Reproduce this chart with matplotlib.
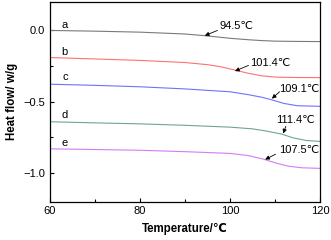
import numpy as np
import matplotlib
matplotlib.use("Agg")
import matplotlib.pyplot as plt
from matplotlib.ticker import MultipleLocator

plt.rcParams['font.family'] = ['Liberation Sans', 'DejaVu Sans']

# DSC curves (temperature in C, heat flow in w/g)
temp_a = [60, 70, 80, 90, 94.5, 97, 100, 104, 107, 110, 115, 120]
flow_a = [0.0, -0.005, -0.012, -0.025, -0.037, -0.045, -0.055, -0.065, -0.071, -0.075, -0.077, -0.078]

temp_b = [60, 70, 80, 90, 95, 98, 101.4, 104, 107, 110, 115, 120]
flow_b = [-0.19, -0.2, -0.21, -0.225, -0.24, -0.255, -0.28, -0.3, -0.318, -0.327, -0.33, -0.331]

temp_c = [60, 70, 80, 90, 100, 104, 107, 109.1, 112, 115, 120]
flow_c = [-0.377, -0.385, -0.395, -0.41, -0.43, -0.45, -0.468, -0.485, -0.512, -0.528, -0.532]

temp_d = [60, 70, 80, 90, 100, 105, 108, 111.4, 114, 117, 120]
flow_d = [-0.64, -0.648, -0.655, -0.665, -0.678, -0.69, -0.705, -0.726, -0.753, -0.772, -0.778]

temp_e = [60, 70, 80, 90, 100, 104, 107.5, 110, 113, 116, 120]
flow_e = [-0.83, -0.835, -0.84, -0.85, -0.862, -0.877, -0.903, -0.928, -0.952, -0.963, -0.967]

curve_names = ['a', 'b', 'c', 'd', 'e']
curve_colors = ['#7a7a7a', '#ff7070', '#7070ff', '#6fa590', '#d47cf5']
name_pos = [0.04, -0.152, -0.327, -0.594, -0.792]

# glass transition labels: text, label position, arrow head position
tg_labels = ['94.5℃', '101.4℃', '109.1℃', '111.4℃', '107.5℃']
tg_text_xy = [(97.6, 0.028), (104.4, -0.226), (111.0, -0.408), (110.3, -0.626), (110.8, -0.839)]
tg_arrow_xy = [(94.4, -0.036), (101.1, -0.285), (109.3, -0.478), (111.8, -0.722), (107.8, -0.905)]
tg_tail_xy = [(97.2, 0.0), (104.1, -0.245), (111.0, -0.43), (112.4, -0.672), (110.1, -0.868)]

fig = plt.figure(figsize=(3.31, 2.40), dpi=100)
ax = fig.add_axes([0.151, 0.16, 0.816, 0.832])

temps = [temp_a, temp_b, temp_c, temp_d, temp_e]
flows = [flow_a, flow_b, flow_c, flow_d, flow_e]
for t, f, c in zip(temps, flows, curve_colors):
    ax.plot(t, f, color=c, lw=0.8)

for name, y in zip(curve_names, name_pos):
    ax.text(63.3, y, name, fontsize=8, ha='center', va='center')

for lab, txy, head, tail in zip(tg_labels, tg_text_xy, tg_arrow_xy, tg_tail_xy):
    ax.text(txy[0], txy[1], lab, fontsize=8, ha='left', va='center')
    ax.annotate('', xy=head, xytext=tail,
                arrowprops=dict(arrowstyle='-|>', lw=0.6, color='black',
                                mutation_scale=6, shrinkA=0, shrinkB=0))

ax.set_xlim(60, 120)
ax.set_ylim(-1.2, 0.2)
ax.xaxis.set_major_locator(MultipleLocator(20))
ax.xaxis.set_minor_locator(MultipleLocator(10))
ax.yaxis.set_major_locator(MultipleLocator(0.5))
ax.yaxis.set_minor_locator(MultipleLocator(0.25))
ax.tick_params(which='both', direction='in', labelsize=8, width=0.8)
ax.tick_params(which='major', length=3)
ax.tick_params(which='minor', length=2)
for sp in ax.spines.values():
    sp.set_linewidth(0.9)

ax.set_xlabel('Temperature/℃', fontsize=8.3, fontweight='bold', labelpad=5)
ax.set_ylabel('Heat flow/ w/g', fontsize=8.3, fontweight='bold', labelpad=4)

fig.savefig('out.png', dpi=100)
